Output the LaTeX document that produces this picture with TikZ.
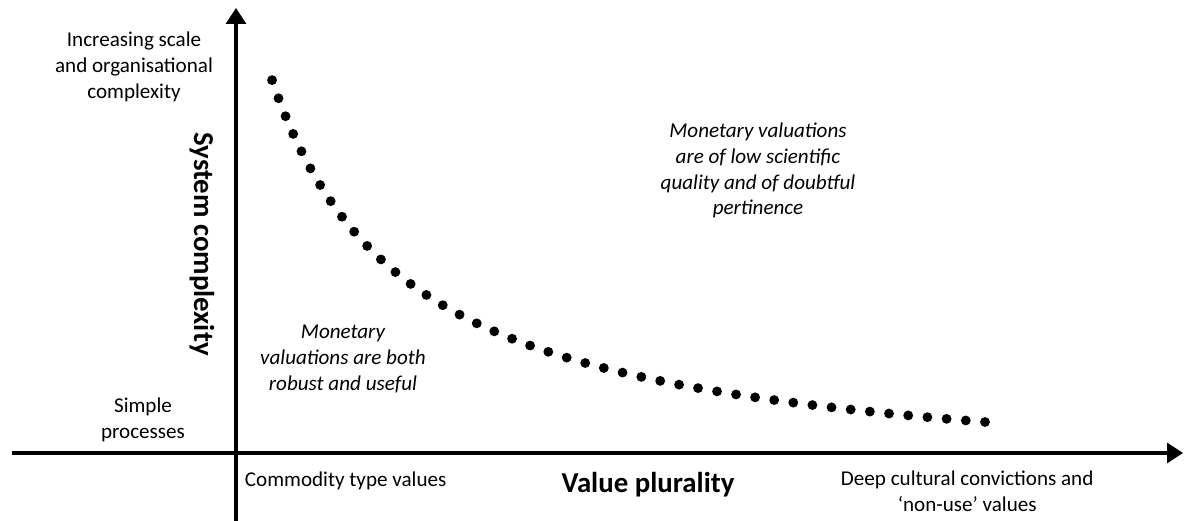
\documentclass[tikz,border=0pt]{standalone}
\usepackage{fontspec}
\setmainfont{Carlito}
\usetikzlibrary{arrows.meta}

\tikzset{
    axis/.style={line width=2.2pt, -{Triangle[width=0.5cm,length=0.4cm]}},
    lbl/.style={align=center, font=\fontsize{15}{18.3}\selectfont},
    note/.style={align=center, font=\fontsize{15}{18.3}\selectfont\itshape},
    axislbl/.style={font=\fontsize{20.5}{24}\selectfont\bfseries},
    dots/.style={line width=7pt, line cap=round, dash pattern=on 0pt off 0.4818cm}
}

\begin{document}
\begin{tikzpicture}
\useasboundingbox (-5.9,-1.7) rectangle (23.775,11.325);

% axes
\coordinate (ybot) at (0,-1.7);
\coordinate (ytop) at (0,11.125);
\coordinate (xleft) at (-5.6,0);
\coordinate (xright) at (23.675,0);
\draw[axis] (ybot) -- (ytop);
\draw[axis] (xleft) -- (xright);

% dotted boundary
\draw[dots] plot[domain=18.725:0.9, samples=120, smooth] (\x,{35.57/(\x+2.58)-0.895});

% labels on the axes
\node[axislbl, rotate=-90] (ylab) at (-0.85,5.225) {System complexity};
\node[axislbl] (xlab) at (10.3,-0.8) {Value plurality};
\node[lbl] (ytopl) at (-2.55,9.65) {Increasing scale\\and organisational\\complexity};
\node[lbl] (ybotl) at (-2.325,0.825) {Simple\\processes};
\node[lbl, anchor=west] (xleftl) at (0.1,-0.7) {Commodity type values};
\node[lbl] (xrightl) at (18.28,-0.95) {Deep cultural convictions and\\`non-use' values};

% the two regions
\node[note] (low) at (2.675,2.35) {Monetary\\valuations are both\\robust and useful};
\node[note] (high) at (13.05,7.06) {Monetary valuations\\are of low scientific\\quality and of doubtful\\pertinence};
\end{tikzpicture}
\end{document}
